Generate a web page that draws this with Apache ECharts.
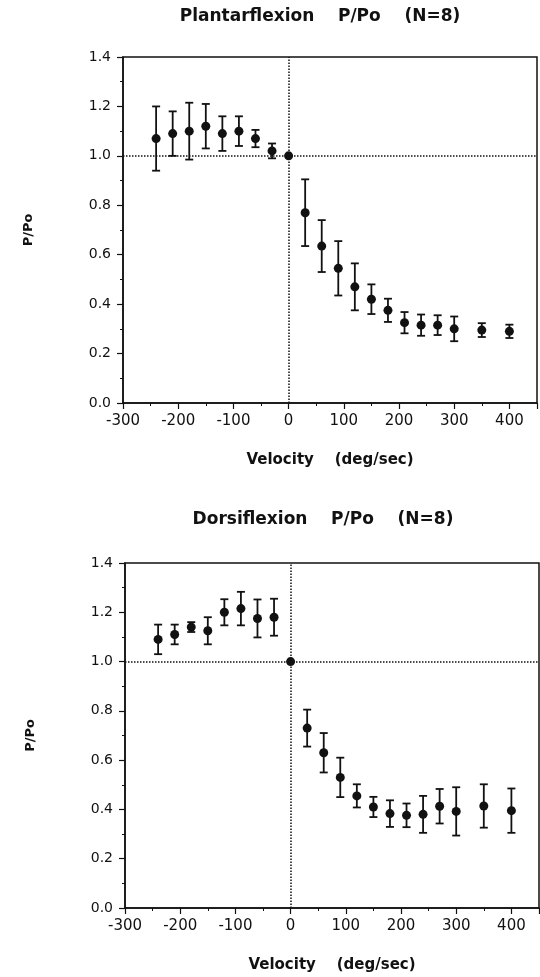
<!DOCTYPE html>
<html>
<head>
<meta charset="utf-8">
<script src="https://cdn.jsdelivr.net/npm/echarts@6/dist/echarts.min.js"></script>
<style>
  html, body { margin: 0; padding: 0; background: #fff; }
  #main { width: 540px; height: 977px; }
</style>
</head>
<body>
<div id="main"></div>
<script>
// velocities (deg/sec), same for both panels
const velocity = [-240, -210, -180, -150, -120, -90, -60, -30, 0, 30, 60, 90, 120, 150, 180, 210, 240, 270, 300, 350, 400];

// Plantarflexion P/Po mean and error
const plantarMean = [1.07, 1.09, 1.10, 1.12, 1.09, 1.10, 1.07, 1.02, 1.00, 0.77, 0.635, 0.545, 0.47, 0.42, 0.375, 0.325, 0.315, 0.315, 0.30, 0.295, 0.29];
const plantarErr = [0.13, 0.09, 0.115, 0.09, 0.07, 0.06, 0.035, 0.03, 0, 0.135, 0.105, 0.11, 0.095, 0.06, 0.047, 0.043, 0.043, 0.04, 0.05, 0.028, 0.027];

// Dorsiflexion P/Po mean and error
const dorsiMean = [1.09, 1.11, 1.14, 1.125, 1.20, 1.215, 1.175, 1.18, 1.00, 0.73, 0.63, 0.53, 0.455, 0.41, 0.383, 0.376, 0.38, 0.413, 0.392, 0.414, 0.395];
const dorsiErr = [0.06, 0.04, 0.02, 0.055, 0.053, 0.068, 0.077, 0.075, 0, 0.075, 0.08, 0.08, 0.047, 0.041, 0.054, 0.048, 0.075, 0.07, 0.098, 0.088, 0.09];

const xTicks = { min: -300, max: 450, interval: 100 };
const yTicks = { min: 0, max: 1.4, interval: 0.2 };

const ink = '#111';
const chart = echarts.init(document.getElementById('main'), null, { renderer: 'canvas' });

function xAxisOf(gridIndex) {
  return {
    type: 'value', gridIndex: gridIndex,
    min: xTicks.min, max: xTicks.max, interval: xTicks.interval,
    name: 'Velocity    (deg/sec)', nameLocation: 'middle', nameGap: 50,
    nameTextStyle: { fontFamily: 'DejaVu Sans', fontWeight: 'bold', fontSize: 15, color: ink },
    axisLine: { onZero: false, lineStyle: { color: ink, width: 1.5 } },
    axisTick: { show: true, inside: false, length: 6, lineStyle: { color: ink, width: 1.2 } },
    minorTick: { show: true, splitNumber: 2, length: 3, lineStyle: { color: ink, width: 1 } },
    axisLabel: { showMaxLabel: false, margin: 11, fontFamily: 'DejaVu Sans', fontSize: 15, color: ink },
    splitLine: { show: false }
  };
}

function yAxisOf(gridIndex) {
  return {
    type: 'value', gridIndex: gridIndex,
    min: yTicks.min, max: yTicks.max, interval: yTicks.interval,
    name: 'P/Po', nameLocation: 'middle', nameRotate: 90, nameGap: 88,
    nameTextStyle: { fontFamily: 'DejaVu Sans', fontWeight: 'bold', fontSize: 13, color: ink },
    axisLine: { onZero: false, lineStyle: { color: ink, width: 1.5 } },
    axisTick: { show: true, inside: false, length: 6, lineStyle: { color: ink, width: 1.2 } },
    minorTick: { show: true, splitNumber: 2, length: 3, lineStyle: { color: ink, width: 1 } },
    axisLabel: { margin: 12, fontFamily: 'DejaVu Sans', fontSize: 14, color: ink,
      formatter: v => v.toFixed(1) },
    splitLine: { show: false }
  };
}

function errorData(mean, err) {
  return velocity.map((v, i) => [v, mean[i] - err[i], mean[i] + err[i]]);
}

function renderError(params, api) {
  const x = api.value(0);
  const lo = api.value(1);
  const hi = api.value(2);
  if (hi - lo < 1e-6) return null;
  const top = api.coord([x, hi]);
  const bot = api.coord([x, lo]);
  const w = 4;
  const style = { stroke: ink, lineWidth: 1.8 };
  return {
    type: 'group',
    children: [
      { type: 'line', shape: { x1: top[0], y1: top[1], x2: bot[0], y2: bot[1] }, style: style },
      { type: 'line', shape: { x1: top[0] - w, y1: top[1], x2: top[0] + w, y2: top[1] }, style: style },
      { type: 'line', shape: { x1: bot[0] - w, y1: bot[1], x2: bot[0] + w, y2: bot[1] }, style: style }
    ]
  };
}

function refLines() {
  return {
    silent: true,
    symbol: ['none', 'none'],
    label: { show: false },
    lineStyle: { type: 'dotted', color: ink, width: 1.5 },
    data: [{ xAxis: 0 }, { yAxis: 1.0 }]
  };
}

function panelSeries(idx, mean, err) {
  return [
    {
      type: 'custom', xAxisIndex: idx, yAxisIndex: idx,
      renderItem: renderError,
      encode: { x: 0, y: [1, 2] },
      data: errorData(mean, err),
      z: 2
    },
    {
      type: 'scatter', xAxisIndex: idx, yAxisIndex: idx,
      symbol: 'circle', symbolSize: 9,
      itemStyle: { color: ink, opacity: 1 },
      data: velocity.map((v, i) => [v, mean[i]]),
      markLine: refLines(),
      z: 3
    }
  ];
}

const option = {
  backgroundColor: '#fff',
  animation: false,
  grid: [
    { left: 123, right: 3, top: 57, height: 346, show: true, borderColor: ink, borderWidth: 1.5, backgroundColor: 'transparent' },
    { left: 125, right: 1, top: 563, height: 345, show: true, borderColor: ink, borderWidth: 1.5, backgroundColor: 'transparent' }
  ],
  graphic: [
    { type: 'text', x: 320, y: 17, style: { text: 'Plantarflexion    P/Po    (N=8)', fontFamily: 'DejaVu Sans', fontWeight: 'bold', fontSize: 17, fill: ink, align: 'center', verticalAlign: 'middle' } },
    { type: 'text', x: 323, y: 520, style: { text: 'Dorsiflexion    P/Po    (N=8)', fontFamily: 'DejaVu Sans', fontWeight: 'bold', fontSize: 17, fill: ink, align: 'center', verticalAlign: 'middle' } }
  ],
  xAxis: [xAxisOf(0), xAxisOf(1)],
  yAxis: [yAxisOf(0), yAxisOf(1)],
  series: [].concat(panelSeries(0, plantarMean, plantarErr), panelSeries(1, dorsiMean, dorsiErr))
};

chart.setOption(option);
</script>
</body>
</html>
